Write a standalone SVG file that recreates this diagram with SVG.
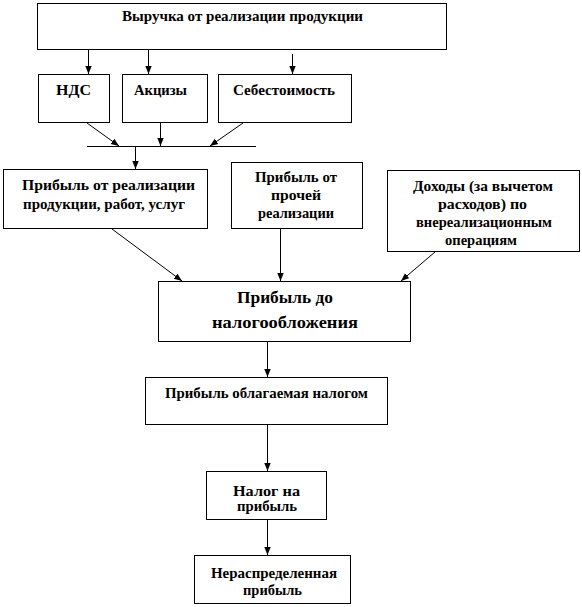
<svg xmlns="http://www.w3.org/2000/svg" width="582" height="607" viewBox="0 0 582 607">
<style>
rect{fill:#fff;stroke:#000;stroke-width:1}
text{font-family:'Liberation Serif','Times New Roman',serif;font-weight:bold;font-size:14px;fill:#000;text-anchor:middle}
.big{font-size:17px}
.c line{stroke:#000;stroke-width:1}
.c .a{marker-end:url(#ah)}
</style>
<defs>
<marker id="ah" viewBox="0 0 8 8" refX="8" refY="4" markerWidth="8" markerHeight="8" markerUnits="userSpaceOnUse" orient="auto">
<path d="M0,0.8 L8,4 L0,7.2 Z" fill="#000"/>
</marker>
</defs>
<g class="c" id="connectors">
<line class="a" x1="88.5" y1="50" x2="88.5" y2="74"/>
<line class="a" x1="148.5" y1="50" x2="148.5" y2="74"/>
<line class="a" x1="292.5" y1="54" x2="292.5" y2="74"/>
<line class="a" x1="87" y1="123" x2="119" y2="146"/>
<line class="a" x1="160.5" y1="123" x2="160.5" y2="146"/>
<line class="a" x1="243" y1="123" x2="210" y2="146"/>
<line x1="87" y1="146.5" x2="256" y2="146.5"/>
<line class="a" x1="135.5" y1="146" x2="135.5" y2="169"/>
<line class="a" x1="112" y1="229" x2="182" y2="281"/>
<line class="a" x1="280.5" y1="229" x2="280.5" y2="281"/>
<line class="a" x1="435" y1="252" x2="401" y2="281"/>
<line class="a" x1="267.5" y1="341" x2="267.5" y2="377"/>
<line class="a" x1="267.5" y1="424" x2="267.5" y2="471"/>
<line class="a" x1="267.5" y1="519" x2="267.5" y2="555"/>
</g>
<g id="revenue">
<rect x="37.5" y="3.5" width="409" height="46"/>
<text x="242.5" y="21" textLength="241" lengthAdjust="spacingAndGlyphs">Выручка от реализации продукции</text>
</g>
<g id="vat">
<rect x="38.5" y="74.5" width="71" height="48"/>
<text x="73.5" y="95" textLength="35" lengthAdjust="spacingAndGlyphs">НДС</text>
</g>
<g id="excise">
<rect x="122.5" y="74.5" width="85" height="48"/>
<text x="160.5" y="95" textLength="53" lengthAdjust="spacingAndGlyphs">Акцизы</text>
</g>
<g id="cost">
<rect x="218.5" y="74.5" width="133" height="48"/>
<text x="284" y="95" textLength="102" lengthAdjust="spacingAndGlyphs">Себестоимость</text>
</g>
<g id="sales-profit">
<rect x="3.5" y="169.5" width="204" height="59"/>
<text x="108.5" y="190" textLength="173" lengthAdjust="spacingAndGlyphs">Прибыль от реализации</text>
<text x="104" y="209" textLength="162" lengthAdjust="spacingAndGlyphs">продукции, работ, услуг</text>
</g>
<g id="other-profit">
<rect x="231.5" y="162.5" width="131" height="66"/>
<text x="296" y="182" textLength="82" lengthAdjust="spacingAndGlyphs">Прибыль от</text>
<text x="296" y="200" textLength="50" lengthAdjust="spacingAndGlyphs">прочей</text>
<text x="296" y="218" textLength="76" lengthAdjust="spacingAndGlyphs">реализации</text>
</g>
<g id="non-operating">
<rect x="387.5" y="170.5" width="192" height="81"/>
<text x="483" y="191" textLength="140" lengthAdjust="spacingAndGlyphs">Доходы (за вычетом</text>
<text x="482.5" y="209" textLength="89" lengthAdjust="spacingAndGlyphs">расходов) по</text>
<text x="484" y="227" textLength="136" lengthAdjust="spacingAndGlyphs">внереализационным</text>
<text x="481" y="245" textLength="72" lengthAdjust="spacingAndGlyphs">операциям</text>
</g>
<g id="pretax">
<rect x="158.5" y="281.5" width="252" height="60"/>
<text class="big" x="285" y="303" textLength="96" lengthAdjust="spacingAndGlyphs">Прибыль до</text>
<text class="big" x="285" y="328" textLength="146" lengthAdjust="spacingAndGlyphs">налогообложения</text>
</g>
<g id="taxable">
<rect x="145.5" y="377.5" width="242" height="47"/>
<text x="266.5" y="398" textLength="203" lengthAdjust="spacingAndGlyphs">Прибыль облагаемая налогом</text>
</g>
<g id="tax">
<rect x="206.5" y="471.5" width="120" height="48"/>
<text x="266.5" y="496" textLength="67" lengthAdjust="spacingAndGlyphs">Налог на</text>
<text x="267" y="511" textLength="60" lengthAdjust="spacingAndGlyphs">прибыль</text>
</g>
<g id="retained">
<rect x="194.5" y="555.5" width="156" height="48"/>
<text x="274" y="578" textLength="126" lengthAdjust="spacingAndGlyphs">Нераспределенная</text>
<text x="272.5" y="595" textLength="59" lengthAdjust="spacingAndGlyphs">прибыль</text>
</g>
</svg>
